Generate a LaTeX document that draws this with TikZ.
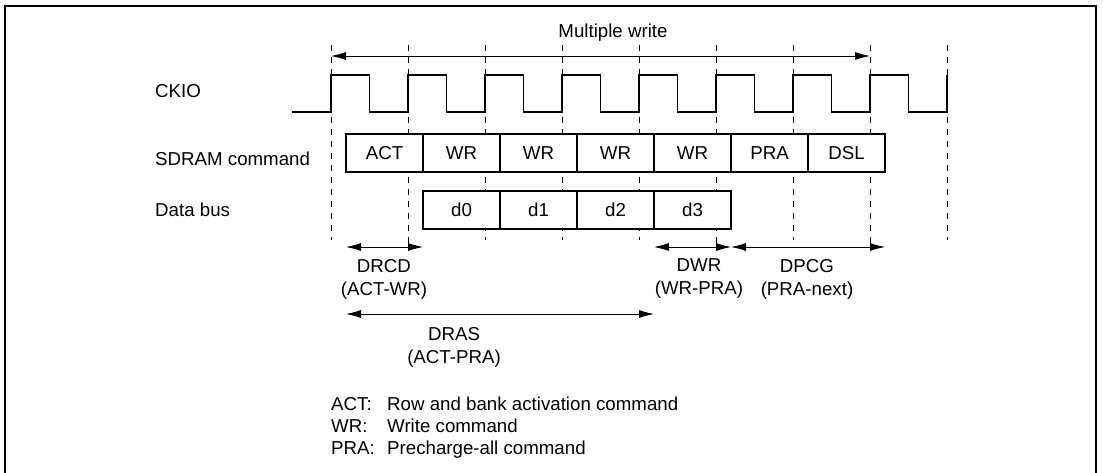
\documentclass[tikz,border=0pt]{standalone}
\usepackage{fontspec}
\setmainfont{Liberation Sans}
\usetikzlibrary{arrows.meta,positioning}

\begin{document}
\begin{tikzpicture}[
    x=1pt, y=-1pt,
    font=\fontsize{18.7}{23}\selectfont,
    node distance=0pt,
    cell/.style={draw, fill=white, line width=1.6pt, minimum width=77pt, minimum height=38pt, inner sep=0pt, outer sep=0pt, anchor=west},
    clk/.style={line width=1.6pt},
    grid/.style={dash pattern=on 6pt off 6pt, line width=0.8pt},
    span/.style={{Latex[length=15pt,width=8pt]}-{Latex[length=15pt,width=8pt]}, line width=0.8pt},
    lbl/.style={anchor=base west, inner sep=0pt},
    txt/.style={align=center, inner sep=0pt}
]
\useasboundingbox (0,0) rectangle (1103,473);
\draw[line width=2pt] (5,473) -- (5,6) -- (1096,6) -- (1096,473);

% clock edges
\foreach \i in {0,...,8} {
    \coordinate (t\i) at ({331+77*\i},45);
    \coordinate (b\i) at ({331+77*\i},240);
    \draw[grid] (t\i) -- (b\i);
}
\draw[grid] (b1) -- ++(0,8);
\draw[grid] (b5) -- ++(0,8);
\draw[grid] (b7) -- ++(0,8);

% row names
\node[lbl] (ckio) at (155,98) {CKIO};
\node[lbl] (cmd) at (155,166) {SDRAM command};
\node[lbl] (bus) at (155,217) {Data bus};

% clock
\draw[clk] (292,112) \foreach \i in {0,...,7} {
    -- ({331+77*\i},112) -- ({331+77*\i},75) -- ({369.5+77*\i},75) -- ({369.5+77*\i},112)
} -- (947,112) -- (947,75);

% commands
\node[cell] (c1) at (346,153) {ACT};
\node[cell, right=of c1] (c2) {WR};
\node[cell, right=of c2] (c3) {WR};
\node[cell, right=of c3] (c4) {WR};
\node[cell, right=of c4] (c5) {WR};
\node[cell, right=of c5] (c6) {PRA};
\node[cell, right=of c6] (c7) {DSL};

% data
\node[cell] (d0) at (423,210) {d0};
\node[cell, right=of d0] (d1) {d1};
\node[cell, right=of d1] (d2) {d2};
\node[cell, right=of d2] (d3) {d3};

% timing spans
\coordinate (mw) at (0,56);
\coordinate (r1) at (0,247);
\coordinate (r2) at (0,314);
\draw[span] (t0 |- mw) -- (t7 |- mw);
\node[txt] (mwl) at (613,33) {Multiple write};

\draw[span] (c1.west |- r1) -- (c2.west |- r1);
\node[txt] (drcd) at (384,279) {DRCD\\(ACT-WR)};

\draw[span] (c1.west |- r2) -- (d3.west |- r2);
\node[txt] (dras) at (454,347) {DRAS\\(ACT-PRA)};

\draw[span] (d3.west |- r1) -- (d3.east |- r1);
\node[txt] (dwr) at (699,279) {DWR\\(WR-PRA)};

\draw[span] (c6.west |- r1) -- (c7.east |- r1);
\node[txt] (dpcg) at (807,279) {DPCG\\(PRA-next)};

% legend
\node[lbl] (k1) at (331,410) {ACT:};
\node[lbl] (v1) at (387,410) {Row and bank activation command};
\node[lbl] (k2) at (331,432) {WR:};
\node[lbl] (v2) at (387,432) {Write command};
\node[lbl] (k3) at (331,454) {PRA:};
\node[lbl] (v3) at (387,454) {Precharge-all command};
\end{tikzpicture}
\end{document}
